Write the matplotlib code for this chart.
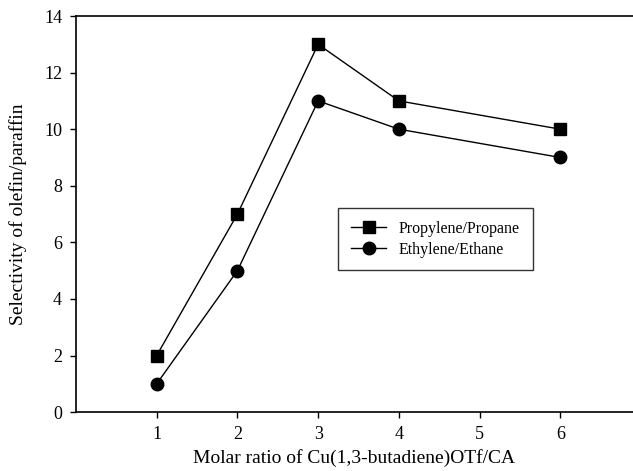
import numpy as np
import matplotlib.pyplot as plt

# данные с графика
ratio = [1, 2, 3, 4, 6]
propylene = [2, 7, 13, 11, 10]
ethylene = [1, 5, 11, 10, 9]
x_ticks = [1, 2, 3, 4, 5, 6]
y_ticks = [0, 2, 4, 6, 8, 10, 12, 14]

plt.rcParams['font.family'] = ['Liberation Serif', 'DejaVu Serif']

fig = plt.figure(figsize=(6.33, 4.71), dpi=100)
ax = fig.add_axes([0.120, 0.125, 0.88, 0.841])

ax.plot(ratio, propylene, color='black', lw=1.0, marker='s', markersize=8.5,
        label='Propylene/Propane')
ax.plot(ratio, ethylene, color='black', lw=1.0, marker='o', markersize=9,
        label='Ethylene/Ethane')

ax.set_xlim(0, 6.9)
ax.set_ylim(0, 14)
ax.set_xticks(x_ticks)
ax.set_yticks(y_ticks)
ax.tick_params(direction='out', length=4, width=1, labelsize=13, pad=6)
ax.spines['right'].set_visible(False)
for s in ['left', 'top', 'bottom']:
    ax.spines[s].set_linewidth(1.2)

ax.set_xlabel('Molar ratio of Cu(1,3-butadiene)OTf/CA', fontsize=14, labelpad=4)
ax.set_ylabel('Selectivity of olefin/paraffin', fontsize=14, labelpad=12)

leg = ax.legend(loc='upper left', bbox_to_anchor=(0.471, 0.515), fontsize=11.5,
                frameon=True, fancybox=False, edgecolor='black', borderaxespad=0,
                handlelength=2.2, borderpad=0.8, labelspacing=0.3)
leg.get_frame().set_linewidth(1.0)

fig.savefig('out.png', dpi=100)
